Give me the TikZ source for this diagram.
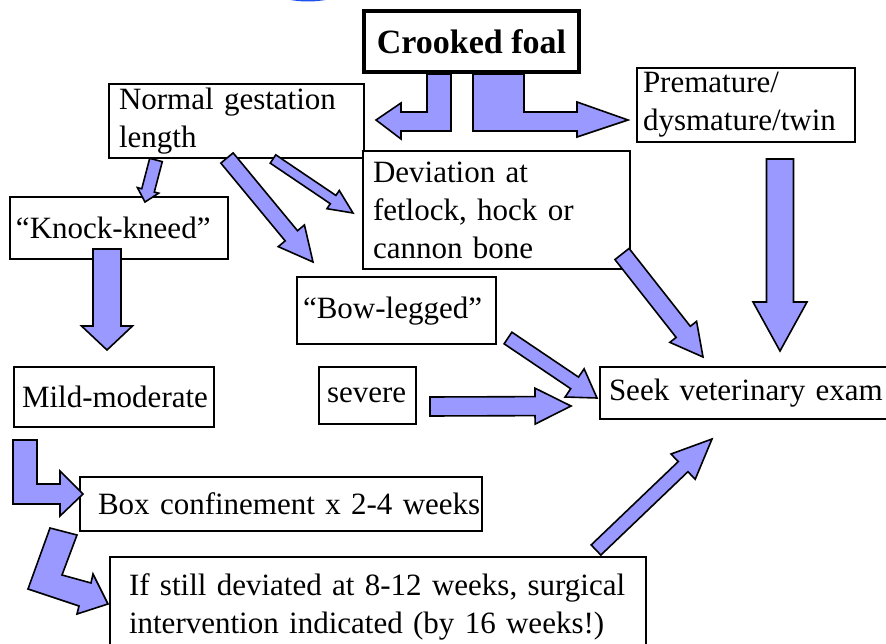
\documentclass[tikz,border=0pt]{standalone}
\usepackage{fontspec}
\setmainfont{Liberation Serif}
\usepackage{tikz}
\usetikzlibrary{calc}

\definecolor{arrowblue}{HTML}{9999FF}
\definecolor{blobblue}{HTML}{1E50F0}

\tikzset{
  box/.style={draw, line width=2pt, fill=white, anchor=north west, align=left,
    inner xsep=8pt, inner ysep=0pt, font=\fontsize{31}{38}\selectfont},
  blk/.style={draw=black, line width=1.6pt, fill=arrowblue, line join=miter}
}

% block arrow: from, to, shaft half width, head half width, head length
\newcommand{\fatarrow}[5]{%
  \coordinate (hb) at ($(#2)!#5!(#1)$);
  \draw[blk] ($(#1)!#3!90:(#2)$) -- ($(hb)!#3!90:(#2)$) -- ($(hb)!#4!90:(#2)$)
    -- (#2) -- ($(hb)!#4!-90:(#2)$) -- ($(hb)!#3!-90:(#2)$)
    -- ($(#1)!#3!-90:(#2)$) -- cycle;}

\begin{document}
\begin{tikzpicture}[x=1pt, y=-1pt]
        \useasboundingbox (0,0) rectangle (886,644);
        \clip (0,0) rectangle (886,644);

        % Bit of the blue picture cut off at the top
        \draw[blobblue, line width=3pt] (308,-100.5) circle (100.5);

        % Draw the boxes
        \node[box, line width=4pt, anchor=north west, align=center, inner xsep=0pt,
          minimum width=215, minimum height=61, font=\fontsize{34}{40}\selectfont\bfseries]
          (foal) at (362,9) {Crooked foal};
        \node[box, inner xsep=10pt, text width=235, minimum height=74] (normal) at (108,83)
          {Normal gestation\\length};
        \node[box, inner xsep=6pt, text width=206, minimum height=74] (prem) at (636,67)
          {Premature/\\dysmature/twin};
        \node[box, inner xsep=10pt, text width=247, minimum height=118] (dev) at (362,150)
          {Deviation at\\fetlock, hock or\\cannon bone};
        \node[box, inner xsep=6pt, text width=206, minimum height=62] (knock) at (9,196)
          {\mbox{“Knock-kneed”}};
        \node[box, inner xsep=6pt, text width=187, minimum height=67, text depth=6pt]
          (bow) at (296,276) {\mbox{“Bow-legged”}};
        \node[box, text width=184, minimum height=60] (mild) at (13,366)
          {\mbox{Mild-moderate}};
        \node[box, text width=81, minimum height=57] (severe) at (318,366) {\mbox{severe}};
        \node[box, inner xsep=9pt, text width=302, minimum height=52] (seek) at (599,366)
          {\mbox{Seek veterinary exam}};
        \node[box, inner xsep=18pt, text width=366, minimum height=54] (boxc) at (79,476)
          {\mbox{Box confinement x 2-4 weeks}};
        \node[box, inner xsep=19pt, text width=498, minimum height=100] (still) at (109,556)
          {If still deviated at 8-12 weeks, surgical\\intervention indicated (by 16 weeks!)};

        % Arrow ends
        \coordinate (gl-k) at ($(normal.south west)+(48,1)$);
        \coordinate (k-in) at ($(knock.north west)+(136,6)$);
        \coordinate (gl-b) at ($(normal.south west)+(119,-1)$);
        \coordinate (b-in) at ($(bow.north west)+(17,-14)$);
        \coordinate (gl-d) at ($(normal.south west)+(165,0)$);
        \coordinate (d-in) at ($(dev.north west)+(-9,63)$);
        \coordinate (k-out) at ($(knock.south west)+(98,-11)$);
        \coordinate (m-in) at ($(mild.north west)+(94,-16)$);
        \coordinate (p-out) at ($(prem.south west)+(144,16)$);
        \coordinate (s-top) at ($(seek.north west)+(181,-15)$);
        \coordinate (d-out) at ($(dev.south east)+(-9,-16)$);
        \coordinate (s-mid) at ($(seek.north west)+(104,-9)$);
        \coordinate (b-out) at ($(bow.south east)+(11,-7)$);
        \coordinate (s-left) at ($(seek.north west)+(-2,32)$);
        \coordinate (sv-out) at ($(severe.east)+(13,11)$);
        \coordinate (s-west) at ($(seek.west)+(-28,13)$);
        \coordinate (st-out) at ($(still.north west)+(487,-6)$);
        \coordinate (s-low) at ($(seek.south west)+(113,19)$);

        % Bent arrows out of the top box
        \draw[blk] ($(foal.south west)+(65,0)$) -- ++(24,0) -- ++(0,57) -- ++(-50,0)
          -- ++(0,8) -- ++(-25,-19) -- ++(25,-17) -- ++(0,9) -- ++(26,0) -- cycle;
        \draw[blk] ($(foal.south west)+(111,0)$) -- ++(51,0) -- ++(0,38) -- ++(53,0)
          -- ++(0,-10) -- ++(51,18) -- ++(-51,17) -- ++(0,-6) -- ++(-104,0) -- cycle;

        % Straight arrows
        \fatarrow{gl-k}{k-in}{6.5pt}{11pt}{12pt}
        \fatarrow{gl-b}{b-in}{8pt}{17pt}{34pt}
        \fatarrow{gl-d}{d-in}{5pt}{11pt}{24pt}
        \fatarrow{k-out}{m-in}{14pt}{25.5pt}{24pt}
        \fatarrow{p-out}{s-top}{13.5pt}{27pt}{49pt}
        \fatarrow{d-out}{s-mid}{9pt}{17pt}{32pt}
        \fatarrow{b-out}{s-left}{7pt}{17pt}{27pt}
        \fatarrow{sv-out}{s-west}{9.5pt}{18pt}{36pt}
        \fatarrow{st-out}{s-low}{7pt}{17.5pt}{40pt}

        % Bent arrows down the left side
        \draw[blk] ($(mild.south west)+(0,12)$) -- ++(24,0) -- ++(0,44) -- ++(23,0)
          -- ++(0,-13) -- ++(23,23) -- ++(-23,22) -- ++(0,-12) -- ++(-47,0) -- cycle;
        \draw[blk] ($(boxc.south west)+(-29,-4)$) -- ++(27,7) -- ++(-15,40) -- ++(29,8)
          -- ++(2,-9) -- ++(15,30) -- ++(-31,10) -- ++(2,-8) -- ++(-51,-17) -- cycle;
    \end{tikzpicture}
\end{document}
